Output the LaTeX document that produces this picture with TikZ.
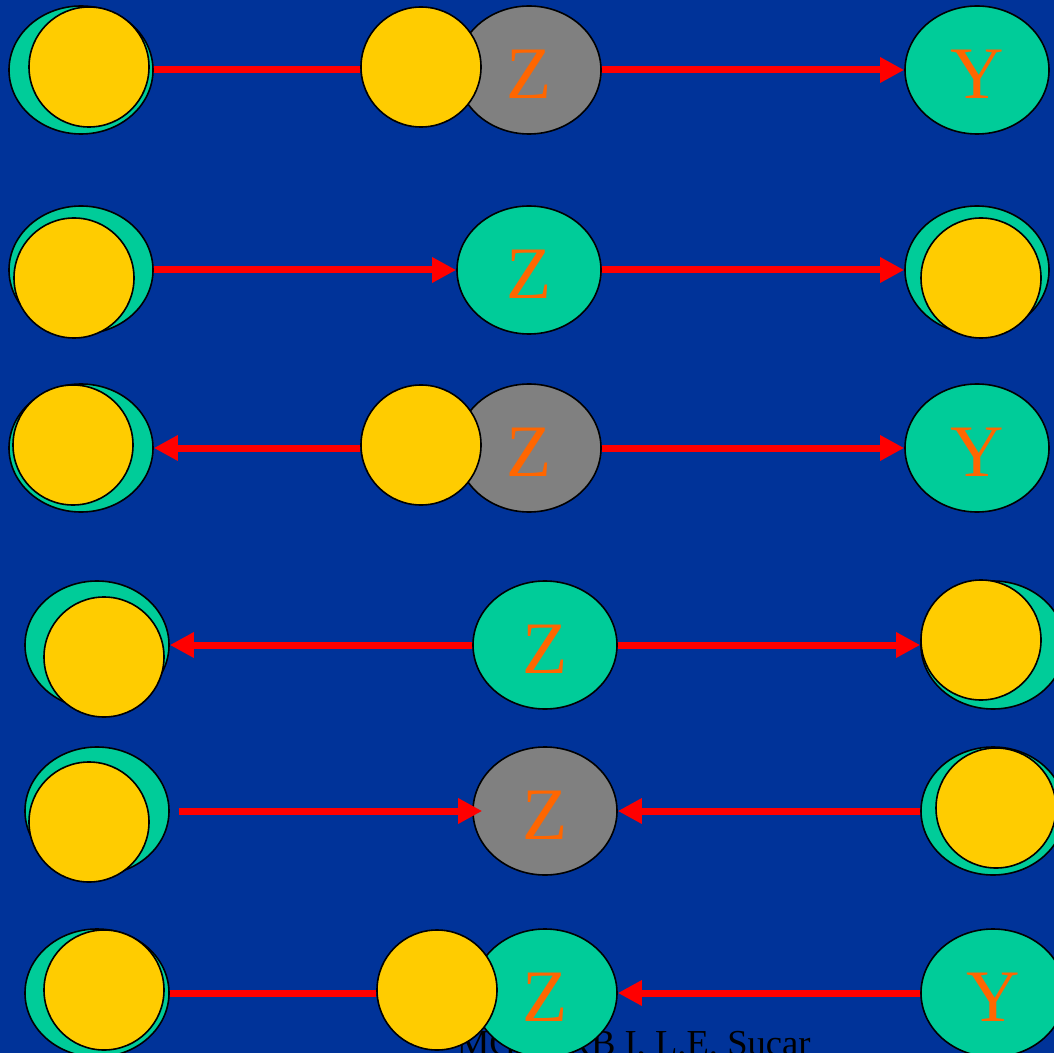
\documentclass[tikz,border=0pt]{standalone}
\usepackage{fontspec}
\setmainfont{Liberation Serif}
\usetikzlibrary{arrows.meta,shapes.geometric}
\definecolor{fondo}{HTML}{003399}
\definecolor{verde}{HTML}{00CC99}
\definecolor{gris}{HTML}{808080}
\definecolor{amarillo}{HTML}{FFCC00}
\definecolor{rojo}{HTML}{FF0000}
\definecolor{naranja}{HTML}{FF6600}

\begin{document}
\begin{tikzpicture}[x=0.5pt, y=-0.5pt, >={Triangle[length=12pt,width=12pt]},
      var/.style={ellipse, draw, line width=0.8pt, fill=verde, minimum width=72pt,
                  minimum height=64pt, inner sep=0pt, text=naranja,
                  text height=28.5pt, text depth=0pt,
                  font=\fontsize{37}{37}\selectfont},
      varg/.style={var, fill=gris},
      ev/.style={circle, draw, line width=0.8pt, fill=amarillo, minimum size=60pt,
                 inner sep=0pt},
      arco/.style={draw=rojo, line width=3.5pt}]
    \useasboundingbox (0,0) rectangle (1054,1053);
    \fill[fondo] (0,0) rectangle (1054,1053);
    \node[anchor=base east, inner sep=0pt, font=\fontsize{18.3}{18}\selectfont] (pie)
      at (811,1055) {MGP - RB I, L.E. Sucar};
    % fila 1
    \node[var] (a1) at (81,70) {};
    \node[ev] (a1e) at (89,67) {};
    \node[varg] (z1) at (529,70) {Z};
    \node[ev] (z1e) at (421,67) {};
    \node[var] (y1) at (977,70) {Y};
    \draw[arco] (a1.east) -- (a1 -| z1e.west);
    \draw[arco, ->] (z1) -- (y1);
    % fila 2
    \node[var] (a2) at (81,270) {};
    \node[ev] (a2e) at (74,278) {};
    \node[var] (z2) at (529,270) {Z};
    \node[var] (y2) at (977,270) {};
    \node[ev] (y2e) at (981,278) {};
    \draw[arco, ->] (a2) -- (z2);
    \draw[arco, ->] (z2) -- (y2);
    % fila 3
    \node[var] (a3) at (81,448) {};
    \node[ev] (a3e) at (73,445) {};
    \node[varg] (z3) at (529,448) {Z};
    \node[ev] (z3e) at (421,445) {};
    \node[var] (y3) at (977,448) {Y};
    \draw[arco, ->] (a3 -| z3e.west) -- (a3.east);
    \draw[arco, ->] (z3) -- (y3);
    % fila 4
    \node[var] (a4) at (97,645) {};
    \node[ev] (a4e) at (104,657) {};
    \node[var] (z4) at (545,645) {Z};
    \node[var] (y4) at (993,645) {};
    \node[ev] (y4e) at (981,640) {};
    \draw[arco, ->] (z4) -- (a4);
    \draw[arco, ->] (z4) -- (y4);
    % fila 5
    \node[var] (a5) at (97,811) {};
    \node[ev] (a5e) at (89,822) {};
    \node[varg] (z5) at (545,811) {Z};
    \node[var] (y5) at (993,811) {};
    \node[ev] (y5e) at (996,808) {};
    \draw[arco, ->, shorten <=4.5pt, shorten >=-5pt] (a5) -- (z5);
    \draw[arco, ->] (y5) -- (z5);
    % fila 6
    \node[var] (a6) at (97,993) {};
    \node[ev] (a6e) at (104,990) {};
    \node[var] (z6) at (545,993) {Z};
    \node[ev] (z6e) at (437,990) {};
    \node[var] (y6) at (993,993) {Y};
    \draw[arco] (a6.east) -- (a6 -| z6e.west);
    \draw[arco, ->] (y6) -- (z6);
  \end{tikzpicture}
\end{document}
